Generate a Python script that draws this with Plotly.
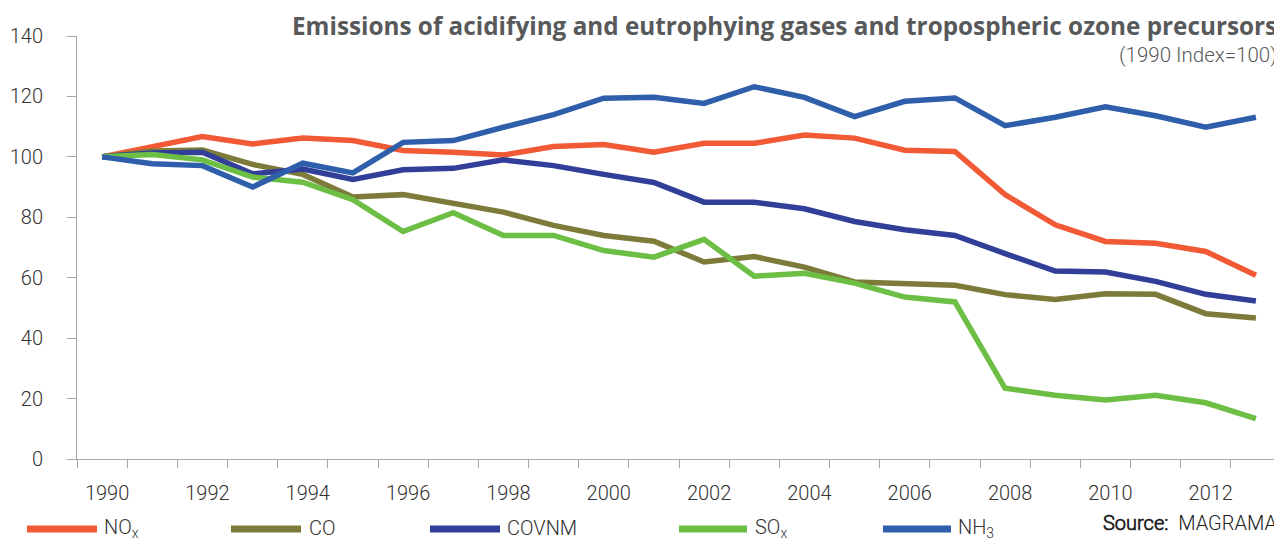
import plotly.graph_objects as go

years = list(range(1990, 2014))
nox = [100, 103.5, 106.7, 104.3, 106.2, 105.4, 102.1, 101.5, 100.6, 103.4, 104.1, 101.5,
       104.5, 104.5, 107.2, 106.2, 102.2, 101.8, 87.5, 77.5, 72.0, 71.4, 68.7, 60.8]
co = [100, 101.9, 102.3, 97.5, 94.2, 86.7, 87.5, 84.5, 81.7, 77.3, 74.0, 72.1,
      65.2, 67.0, 63.5, 58.6, 58.0, 57.5, 54.4, 52.8, 54.7, 54.5, 48.1, 46.7]
covnm = [100, 101.3, 101.5, 94.4, 96.0, 92.5, 95.7, 96.2, 99.0, 97.1, 94.2, 91.5,
         85.0, 85.0, 82.8, 78.6, 75.9, 74.0, 68.0, 62.2, 61.9, 58.8, 54.5, 52.3]
sox = [100, 100.8, 99.0, 93.3, 91.6, 85.8, 75.3, 81.5, 74.0, 74.0, 69.0, 66.8,
       72.7, 60.5, 61.5, 58.2, 53.6, 52.0, 23.4, 21.1, 19.5, 21.1, 18.6, 13.4]
nh3 = [100, 97.7, 97.1, 90.0, 97.9, 94.7, 104.8, 105.4, 109.8, 114.0, 119.4, 119.7,
       117.7, 123.2, 119.7, 113.3, 118.4, 119.5, 110.3, 113.1, 116.6, 113.6, 109.8, 113.1]

series_names = ["NO<sub>x</sub>", "CO", "COVNM", "SO<sub>x</sub>", "NH<sub>3</sub>"]
series_vals = [nox, co, covnm, sox, nh3]
colors = ["#F15A35", "#7D7B3A", "#323F99", "#6CBE45", "#2F5EAB"]

x_labels = [str(y) for y in range(1990, 2013, 2)]
y_ticks = [0, 20, 40, 60, 80, 100, 120, 140]

OFF = 8  # page body margin
W, H = 1282 - OFF, 543 - OFF
L, R, T, B = 77 - OFF, 1281 - OFF, 36 - OFF, 459 - OFF


def px(xp):
    return (xp - OFF - L) / (R - L)


def py(yp):
    return (B - (yp - OFF)) / (B - T)


FONT = "Roboto Light, Roboto"
TXT = "#333333"

fig = go.Figure()
for name, vals, c in zip(series_names, series_vals, colors):
    fig.add_trace(go.Scatter(x=years, y=vals, mode="lines", name=name,
                             line=dict(color=c, width=5.5), showlegend=False))

fig.update_layout(
    width=W, height=H,
    margin=dict(l=L, r=W - R, t=T, b=H - B),
    paper_bgcolor="white", plot_bgcolor="white",
    font=dict(family=FONT, color=TXT, size=19, weight=300),
)
fig.update_xaxes(
    range=[1989.5, 2013.5], showgrid=False, zeroline=False,
    showline=True, linecolor="#A6A6A6", linewidth=1,
    tickmode="array", tickvals=[int(v) for v in x_labels], ticktext=x_labels,
    ticks="", ticklabelshift=5, ticklabelstandoff=16,
    tickfont=dict(family=FONT, size=20, color=TXT, weight=300),
    minor=dict(tickmode="linear", tick0=1989.5, dtick=1, ticks="outside",
               ticklen=8, tickcolor="#A6A6A6", tickwidth=1, showgrid=False),
)
fig.update_yaxes(
    range=[0, 140], showgrid=False, zeroline=False,
    showline=True, linecolor="#A6A6A6", linewidth=1,
    tickmode="array", tickvals=y_ticks,
    ticks="outside", ticklen=9, tickcolor="#A6A6A6", tickwidth=1,
    ticklabelstandoff=20,
    tickfont=dict(family=FONT, size=20, color=TXT, weight=300),
)

# Title and subtitle
fig.add_annotation(x=px(1279), y=py(25), xref="paper", yref="paper",
                   xanchor="right", yanchor="middle", showarrow=False,
                   text="<b>Emissions of acidifying and eutrophying gases and tropospheric ozone precursors</b>",
                   font=dict(family="Open Sans", size=24.3, color="#58595B"))
fig.add_annotation(x=px(1279), y=py(55), xref="paper", yref="paper",
                   xanchor="right", yanchor="middle", showarrow=False,
                   text="(1990 Index=100)",
                   font=dict(family=FONT, size=20.5, color="#58595B", weight=300))

# Custom legend
legend_pos = [(27, 97, 102), (231, 301, 307), (430, 500, 505), (679, 747, 753), (883, 951, 956)]
for (x0, x1, xt), name, c in zip(legend_pos, series_names, colors):
    fig.add_shape(type="line", xref="paper", yref="paper",
                  x0=px(x0), x1=px(x1), y0=py(529), y1=py(529),
                  line=dict(color=c, width=7))
    fig.add_annotation(x=px(xt), y=py(528), xref="paper", yref="paper",
                       xanchor="left", yanchor="middle", showarrow=False,
                       text=name, font=dict(family=FONT, size=20, color=TXT, weight=300))

fig.add_annotation(x=px(1279), y=py(523), xref="paper", yref="paper",
                   xanchor="right", yanchor="middle", showarrow=False,
                   text="<b>Source:</b>  MAGRAMA",
                   font=dict(family=FONT, size=20, color="#222222", weight=300))

fig.write_html("out.html")
